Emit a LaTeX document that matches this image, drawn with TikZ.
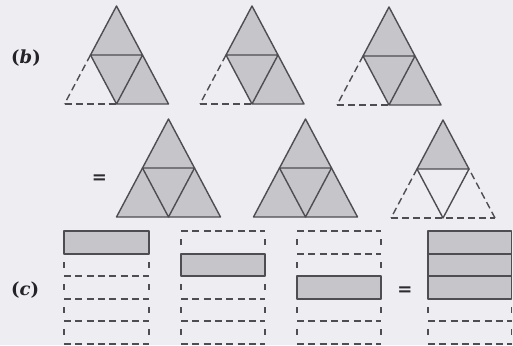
\documentclass[tikz,border=0pt]{standalone}
\usepackage{fontspec}
\newfontfamily\labfont{DejaVu Serif}
\newfontfamily\eqfont{DejaVu Sans}
\usetikzlibrary{calc}
\definecolor{bgc}{RGB}{238,238,242}
\definecolor{shade}{RGB}{198,198,202}
\definecolor{ink}{RGB}{78,78,82}
\definecolor{txt}{RGB}{35,35,40}
\tikzset{
  edge/.style={draw=ink,line width=1.4pt,line join=round},
  dashedge/.style={draw=ink,line width=1.4pt,dash pattern=on 7pt off 4pt},
  hdash/.style={draw=ink,line width=1.4pt,dash pattern=on 7pt off 4.3pt},
  vdash/.style={draw=ink,line width=1.4pt},
  part/.style={fill=shade},
  lab/.style={text=txt,font=\labfont\bfseries\fontsize{18}{22}\selectfont,inner sep=0pt,anchor=west},
  eq/.style={text=txt!80!ink,font=\eqfont\bfseries\fontsize{18}{20}\selectfont,inner sep=0pt},
}
% triangle coordinates: name, apex x, apex y
\newcommand\mktri[3]{%
  \coordinate (#1A) at (#2,#3);
  \coordinate (#1B) at ({#2-52},{#3+98});
  \coordinate (#1C) at ({#2+52},{#3+98});
  \coordinate (#1P) at ({#2-26},{#3+49});
  \coordinate (#1Q) at ({#2+26},{#3+49});
  \coordinate (#1R) at (#2,{#3+98});
}
% type 1: left-bottom empty with dashed outer edges
\newcommand\triOne[1]{%
  \fill[part] (#1A) -- (#1P) -- (#1Q) -- cycle;
  \fill[part] (#1P) -- (#1Q) -- (#1R) -- cycle;
  \fill[part] (#1Q) -- (#1R) -- (#1C) -- cycle;
  \draw[dashedge] (#1P) -- (#1B);
  \draw[dashedge] (#1B) -- (#1R);
  \draw[edge] (#1P) -- (#1A) -- (#1C) -- (#1R) -- (#1P) -- (#1Q) -- (#1R);
}
% type 2: all shaded
\newcommand\triTwo[1]{%
  \fill[part] (#1A) -- (#1B) -- (#1C) -- cycle;
  \draw[edge] (#1A) -- (#1B) -- (#1C) -- cycle;
  \draw[edge] (#1P) -- (#1Q) -- (#1R) -- cycle;
}
% type 3: only top shaded
\newcommand\triThree[1]{%
  \fill[part] (#1A) -- (#1P) -- (#1Q) -- cycle;
  \draw[dashedge] (#1P) -- (#1B);
  \draw[dashedge] (#1B) -- (#1C);
  \draw[dashedge] (#1C) -- (#1Q);
  \draw[edge] (#1A) -- (#1P) -- (#1Q) -- cycle;
  \draw[edge] (#1P) -- (#1R) -- (#1Q);
}
% strip rows: left x, right x, row index
\newcommand\ry[1]{{231+round(22.5*(#1))}}
\newcommand\shaderow[3]{%
  \draw[edge,fill=shade] (#1,\ry{#3}) rectangle (#2,\ry{#3+1});
}
\newcommand\emptyrow[3]{%
  \draw[vdash] (#1,{231+round(22.5*#3)+8}) -- (#1,{231+round(22.5*#3)+14});
  \draw[vdash] (#2,{231+round(22.5*#3)+8}) -- (#2,{231+round(22.5*#3)+14});
}
\newcommand\stripline[3]{% left x, right x, line index
  \draw[hdash] (#1,\ry{#3}) -- (#2,\ry{#3});
}
\begin{document}
\begin{tikzpicture}[x=1pt,y=-1pt]
\fill[bgc] (0,0) rectangle (513,345);
\useasboundingbox (0,0) rectangle (513,345);

% labels
\node[lab] (lb) at (11,58) {(\textit{b})};
\node[lab] (lc) at (11,290) {(\textit{c})};

% (b) top row
\mktri{t1}{116.5}{6}
\mktri{t2}{252}{6}
\mktri{t3}{389}{7}
\triOne{t1}
\triOne{t2}
\triOne{t3}

% (b) second row
\node[eq] (eqb) at (99.5,179) {=};
\mktri{t4}{168.5}{119}
\mktri{t5}{305.5}{119}
\mktri{t6}{443}{120}
\triTwo{t4}
\triTwo{t5}
\triThree{t6}

% (c) strips
% column 1
\foreach \r in {1,2,3,4} {\emptyrow{64}{149}{\r}}
\foreach \h in {2,3,4,5} {\stripline{64}{149}{\h}}
\shaderow{64}{149}{0}
% column 2
\foreach \r in {0,2,3,4} {\emptyrow{181}{265}{\r}}
\foreach \h in {0,3,4,5} {\stripline{181}{265}{\h}}
\shaderow{181}{265}{1}
% column 3
\foreach \r in {0,1,3,4} {\emptyrow{297}{381}{\r}}
\foreach \h in {0,1,4,5} {\stripline{297}{381}{\h}}
\shaderow{297}{381}{2}
% equals
\node[eq] (eqc) at (405,291) {=};
% column 4
\foreach \r in {3,4} {\emptyrow{428}{511.5}{\r}}
\foreach \h in {4,5} {\stripline{428}{511.5}{\h}}
\shaderow{428}{511.5}{0}
\shaderow{428}{511.5}{1}
\shaderow{428}{511.5}{2}
\end{tikzpicture}
\end{document}
